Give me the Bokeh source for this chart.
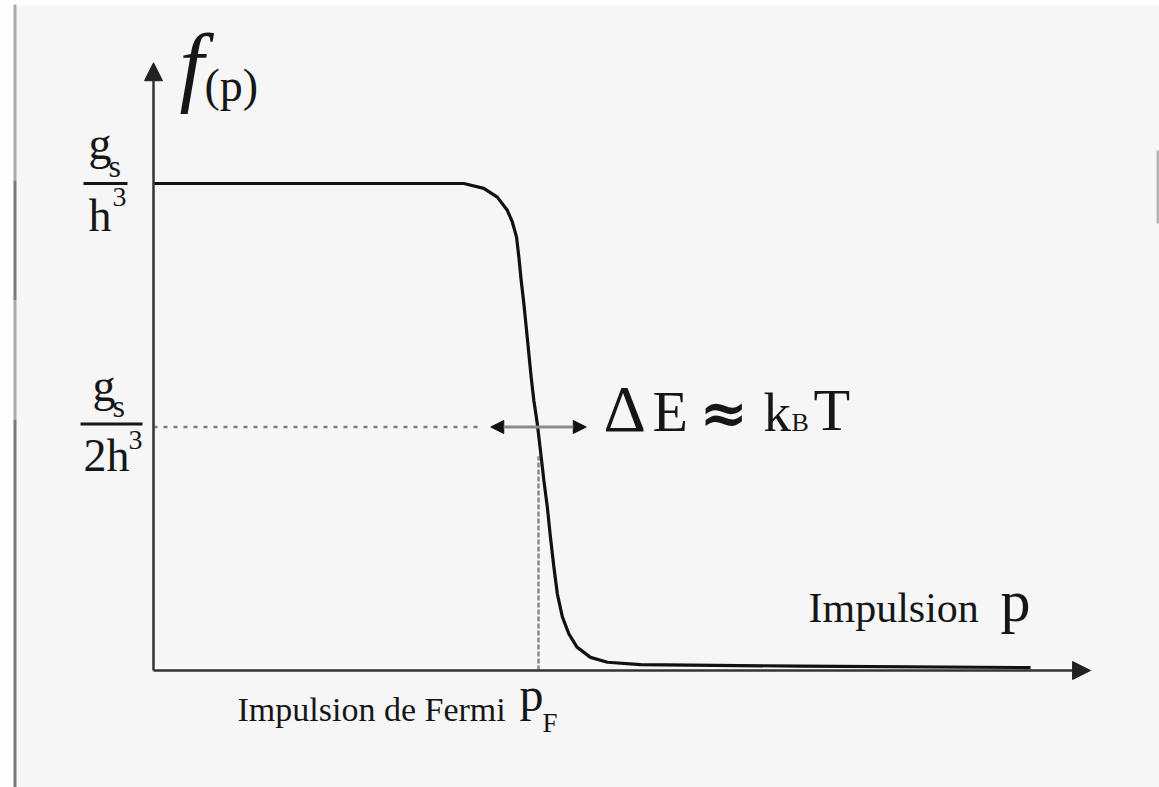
from bokeh.plotting import figure
from bokeh.models import Range1d, Label, Arrow, NormalHead, BoxAnnotation, ColumnDataSource
from bokeh.embed import file_html
from bokeh.resources import INLINE

W, H = 1159, 787

# Fermi-Dirac occupation f(p): p in units of p_F, f in units of g_s/h^3
p_values = [0.0, 0.745, 0.806, 0.858, 0.893, 0.919, 0.932, 0.943, 0.949, 0.955,
            0.962, 0.969, 0.975, 0.981, 0.988, 0.997, 1.005, 1.014, 1.023, 1.031,
            1.040, 1.049, 1.062, 1.079, 1.100, 1.135, 1.179, 1.265, 1.681, 2.278]
f_values = [1.0, 1.0, 1.0, 0.990, 0.972, 0.945, 0.921, 0.890, 0.849, 0.801,
            0.753, 0.698, 0.650, 0.602, 0.554, 0.506, 0.452, 0.390, 0.335, 0.274,
            0.212, 0.157, 0.110, 0.075, 0.048, 0.027, 0.017, 0.012, 0.009, 0.006]

# y ticks: g_s/h^3 and g_s/(2h^3)
y_ticks = [1.0, 0.5]
tick_num = ["g", "g"]
tick_num_sub = ["s", "s"]
tick_den = ["h", "2h"]
tick_den_sup = ["3", "3"]

P_F = 1.0          # Fermi momentum
DELTA_P = 0.124    # half-width of the thermal smearing (~ k_B T)
P_AXIS_END = 2.434
F_AXIS_END = 1.248

# canvas layout: axis origin in pixels and pixels per unit
X0, Y0 = 153, 670
SX, SY = 385.0, 487.0

p = figure(width=W, height=H, output_backend="svg", toolbar_location=None,
           x_range=Range1d(-X0 / SX, (W - X0) / SX),
           y_range=Range1d(-(H - Y0) / SY, Y0 / SY),
           x_axis_location=None, y_axis_location=None,
           min_border=0, title=None,
           background_fill_color="#f6f6f6", border_fill_color="#f6f6f6")
p.grid.visible = False
p.outline_line_color = None

SERIF = "Liberation Serif"
INK = "#161616"
BASELINE_SHIFT = 0.37   # the label anchor sits this fraction of the size above the baseline


def box(left, right, top, bottom, color):
    p.add_layout(BoxAnnotation(left=left, right=right, top=H - top, bottom=H - bottom,
                               left_units="screen", right_units="screen",
                               top_units="screen", bottom_units="screen",
                               fill_color=color, fill_alpha=1.0, line_color=None,
                               level="underlay"))


def put(text, x, baseline, size, italic=False, font=SERIF, bold=False):
    style = "italic" if italic else ("bold" if bold else "normal")
    y = H - (baseline - BASELINE_SHIFT * size)
    p.add_layout(Label(x=x, y=y, x_units="screen", y_units="screen",
                       text=text, text_font=font, text_font_size=f"{size}px",
                       text_font_style=style, text_color=INK,
                       text_baseline="alphabetic", text_align="left"))


# page frame: white margin and scanned border strokes
box(0, 13, 0, H, "#ffffff")
box(0, W, 0, 5, "#ffffff")
box(13, 16, 4, 180, "#ababab")
box(13, 16, 180, 300, "#7a7a7a")
box(13, 16, 300, 419, "#ababab")
box(13, 16, 419, H, "#7a7a7a")
box(1156, 1159, 150, 223, "#b3b3b3")

# guide lines at f = 1/2 and p = p_F
p.line([0, 0.842], [y_ticks[1], y_ticks[1]], line_color="#7d7d7d", line_width=2.5,
       line_dash="4 6")
p.line([P_F, P_F], [0, 0.44], line_color="#8a8a8a", line_width=2.5, line_dash="5 2")

# axes with arrow heads
p.add_layout(Arrow(end=NormalHead(size=18, fill_color="#222222", line_color="#222222"),
                   x_start=0, y_start=0, x_end=0, y_end=F_AXIS_END,
                   line_color="#333333", line_width=2.5))
p.add_layout(Arrow(end=NormalHead(size=18, fill_color="#222222", line_color="#222222"),
                   x_start=0, y_start=0, x_end=P_AXIS_END, y_end=0,
                   line_color="#333333", line_width=2.5))

# distribution curve
src = ColumnDataSource(data=dict(p=p_values, f=f_values))
p.line("p", "f", source=src, line_color="#111111", line_width=3.2, line_join="round")

# thermal width double arrow
p.add_layout(Arrow(start=NormalHead(size=13, fill_color="#111111", line_color="#111111"),
                   end=NormalHead(size=13, fill_color="#111111", line_color="#111111"),
                   x_start=P_F - DELTA_P, y_start=y_ticks[1],
                   x_end=P_F + DELTA_P, y_end=y_ticks[1],
                   line_color="#8a8a8a", line_width=3))

# fraction tick labels on the f axis
frac_layout = [
    # bar_left, bar_right, num_x, num_dy, sub_x, sub_dy, den_x, den_dy, sup_x, sup_dy, bar_dy
    (83, 127, 88, -23, 108, -6, 88, 49, 112, 24, 0),
    (80, 142, 92, -24, 112, -9, 83, 46, 128, 23, -3),
]
for tick, num, sub, den, sup, lay in zip(y_ticks, tick_num, tick_num_sub, tick_den,
                                         tick_den_sup, frac_layout):
    bl, br, nx, ndy, sx, sdy, dx, ddy, px_, pdy, bdy = lay
    yp = Y0 - tick * SY
    box(bl, br, yp + bdy - 1.5, yp + bdy + 1.5, INK)
    put(num, nx, yp + ndy, 46)
    put(sub, sx, yp + sdy, 32)
    put(den, dx, yp + ddy, 46)
    put(sup, px_, yp + pdy, 28)

# axis titles
put("f", 179, 98, 88, italic=True)
put("(p)", 204, 102, 46)
put("Impulsion", 808, 623, 42)
put("p", 1000, 623, 60)
put("Impulsion de Fermi", 237, 722, 34)
put("p", 519, 712, 48)
put("F", 542, 732, 27)

# thermal energy annotation
put("\u0394", 603, 432, 66)
put("E", 652, 432, 58)
put("\u2248", 699, 434, 58, font="DejaVu Serif", bold=True)
put("k", 763, 432, 55)
put("B", 791, 432, 26)
put("T", 813, 432, 60)

open("out.html", "w").write(file_html(p, INLINE))
